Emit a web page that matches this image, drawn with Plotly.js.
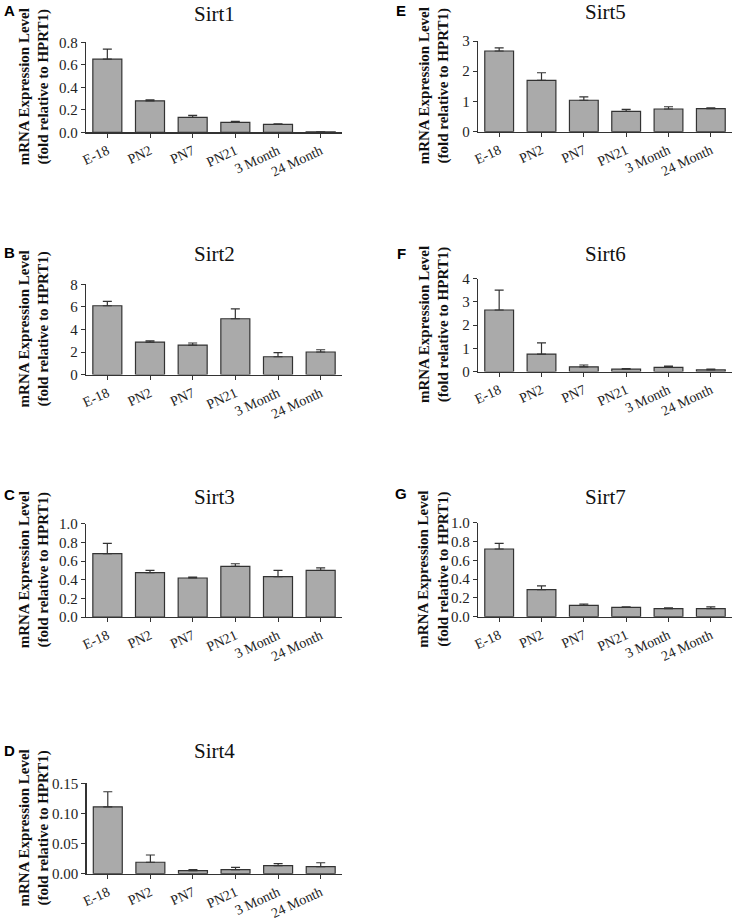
<!DOCTYPE html>
<html>
<head>
<meta charset="utf-8">
<script src="https://cdn.plot.ly/plotly-3.0.1.min.js"></script>
<style>
  body { margin: 0; background: #fff; }
  #plot { width: 737px; height: 921px; }
</style>
</head>
<body>
<div id="plot"></div>
<script>
// stages on the x axis
var stages = ['E-18', 'PN2', 'PN7', 'PN21', '3 Month', '24 Month'];

// mean expression and SEM (upper bar only)
var sirt1 = [0.65, 0.28, 0.133, 0.089, 0.071, 0.003];
var sirt1Err = [0.09, 0.008, 0.018, 0.009, 0.005, 0.001];
var sirt2 = [6.1, 2.88, 2.62, 4.95, 1.58, 2.0];
var sirt2Err = [0.39, 0.12, 0.18, 0.88, 0.36, 0.2];
var sirt3 = [0.68, 0.475, 0.418, 0.543, 0.432, 0.5];
var sirt3Err = [0.11, 0.025, 0.01, 0.028, 0.068, 0.027];
var sirt4 = [0.111, 0.019, 0.005, 0.0066, 0.0133, 0.0116];
var sirt4Err = [0.025, 0.012, 0.002, 0.004, 0.0033, 0.0066];
var sirt5 = [2.67, 1.70, 1.04, 0.675, 0.75, 0.76];
var sirt5Err = [0.1, 0.25, 0.11, 0.065, 0.075, 0.03];
var sirt6 = [2.65, 0.75, 0.2, 0.1, 0.18, 0.07];
var sirt6Err = [0.86, 0.48, 0.08, 0.03, 0.05, 0.03];
var sirt7 = [0.72, 0.287, 0.12, 0.1, 0.085, 0.085];
var sirt7Err = [0.06, 0.04, 0.015, 0.005, 0.01, 0.02];

// y tick values per panel
var sirt1Ticks = [0, 0.2, 0.4, 0.6, 0.8];
var sirt2Ticks = [0, 2, 4, 6, 8];
var sirt3Ticks = [0, 0.2, 0.4, 0.6, 0.8, 1.0];
var sirt4Ticks = [0, 0.05, 0.10, 0.15];
var sirt5Ticks = [0, 1, 2, 3];
var sirt6Ticks = [0, 1, 2, 3, 4];
var sirt7Ticks = [0, 0.2, 0.4, 0.6, 0.8, 1.0];

var W = 737, H = 921;
var serif = 'Liberation Serif';
var ink = '#222';

// panel boxes in pixels: left, right, top, bottom
var panels = [
  {name: 'Sirt1', letter: 'A', y: sirt1, err: sirt1Err, ticks: sirt1Ticks, fmt: '.1f', box: [86, 342, 42.3, 132.3], titleY: 14, letterY: 10.5},
  {name: 'Sirt2', letter: 'B', y: sirt2, err: sirt2Err, ticks: sirt2Ticks, fmt: 'd', box: [86, 342, 284.3, 374.6], titleY: 254, letterY: 252.5},
  {name: 'Sirt3', letter: 'C', y: sirt3, err: sirt3Err, ticks: sirt3Ticks, fmt: '.1f', box: [86, 342, 523.7, 617], titleY: 496.5, letterY: 494},
  {name: 'Sirt4', letter: 'D', y: sirt4, err: sirt4Err, ticks: sirt4Ticks, fmt: '.2f', box: [86.5, 342, 783.3, 873.7], titleY: 751, letterY: 750},
  {name: 'Sirt5', letter: 'E', y: sirt5, err: sirt5Err, ticks: sirt5Ticks, fmt: 'd', box: [478, 732, 41, 131.7], titleY: 12, letterY: 10.5},
  {name: 'Sirt6', letter: 'F', y: sirt6, err: sirt6Err, ticks: sirt6Ticks, fmt: 'd', box: [478, 732, 278.7, 371.5], titleY: 254, letterY: 253},
  {name: 'Sirt7', letter: 'G', y: sirt7, err: sirt7Err, ticks: sirt7Ticks, fmt: '.1f', box: [478, 732, 522.7, 616.7], titleY: 496.5, letterY: 493}
];

var data = [];
var layout = {
  width: W,
  height: H,
  margin: {l: 0, r: 0, t: 0, b: 0},
  paper_bgcolor: '#fff',
  plot_bgcolor: '#fff',
  showlegend: false,
  annotations: []
};

panels.forEach(function (p, i) {
  var n = i + 1;
  var xa = 'xaxis' + n, ya = 'yaxis' + n;
  var left = p.box[0], right = p.box[1], top = p.box[2], bottom = p.box[3];

  data.push({
    type: 'bar',
    x: stages,
    y: p.y,
    xaxis: 'x' + n,
    yaxis: 'y' + n,
    width: 0.68,
    marker: {color: '#aaaaaa', line: {color: '#333', width: 1.2}},
    error_y: {
      type: 'data',
      symmetric: false,
      array: p.err,
      arrayminus: p.err.map(function () { return 0; }),
      color: '#333',
      thickness: 1.2,
      width: 4.5
    },
    hoverinfo: 'x+y'
  });

  layout[xa] = {
    domain: [left / W, right / W],
    anchor: 'y' + n,
    type: 'category',
    range: [-0.5, 5.5],
    showline: true,
    linecolor: '#333',
    linewidth: 1.2,
    ticks: 'outside',
    ticklen: 4,
    tickcolor: '#333',
    tickangle: -25,
    tickfont: {family: serif, size: 14, color: ink},
    showgrid: false,
    zeroline: false,
    fixedrange: true
  };
  layout[ya] = {
    domain: [1 - bottom / H, 1 - top / H],
    anchor: 'x' + n,
    range: [0, p.ticks[p.ticks.length - 1]],
    tickmode: 'array',
    tickvals: p.ticks,
    tickformat: p.fmt,
    showline: true,
    linecolor: '#333',
    linewidth: 1.2,
    ticks: 'outside',
    ticklen: 4,
    tickcolor: '#333',
    tickfont: {family: serif, size: 15, color: ink},
    showgrid: false,
    zeroline: false,
    fixedrange: true
  };

  var cx = (left + right) / 2;
  // panel title
  layout.annotations.push({
    text: p.name, xref: 'paper', yref: 'paper',
    x: cx / W, y: 1 - p.titleY / H, xanchor: 'center', yanchor: 'middle',
    showarrow: false, font: {family: serif, size: 21, color: '#111'}
  });
  // panel letter
  layout.annotations.push({
    text: '<b>' + p.letter + '</b>', xref: 'paper', yref: 'paper',
    x: (left < 200 ? 9.5 : 401) / W, y: 1 - p.letterY / H, xanchor: 'center', yanchor: 'middle',
    showarrow: false, font: {family: 'Liberation Sans', size: 15, color: '#000'}
  });
  // y axis title, two lines
  layout.annotations.push({
    text: '<b>mRNA Expression Level<br>(fold relative to HPRT1)</b>', xref: 'paper', yref: 'paper',
    x: (left < 200 ? 34 : 434) / W, y: 1 - (top + bottom) / 2 / H, xanchor: 'center', yanchor: 'middle',
    textangle: -90, showarrow: false, font: {family: serif, size: 15, color: '#111'}
  });
});

Plotly.newPlot('plot', data, layout, {displayModeBar: false, staticPlot: true});
</script>
</body>
</html>
